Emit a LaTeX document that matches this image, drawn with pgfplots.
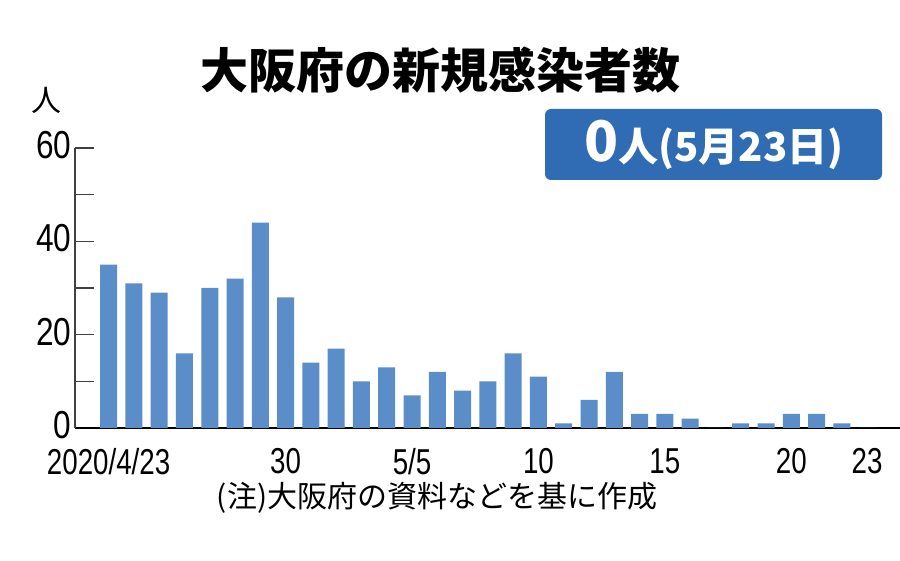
\documentclass[border=0pt]{standalone}
\usepackage{fontspec}
\usepackage{pgfplots}
\pgfplotsset{compat=1.18}
\setmainfont{Liberation Sans}
\newfontfamily\jp{Noto Sans CJK JP}
\newfontfamily\xnum[FakeStretch=0.77]{Liberation Sans}
\newfontfamily\ynum[FakeStretch=0.81]{Liberation Sans}
\definecolor{barblue}{HTML}{5B8DC8}
\definecolor{boxblue}{HTML}{2F6CB3}

\begin{document}
\begin{tikzpicture}[x=1pt,y=1pt]
\useasboundingbox (0,0) rectangle (900,561);
\begin{axis}[
    at={(75pt,133pt)}, anchor=south west,
    scale only axis,
    width=825pt, height=280pt,
    xmin=-1.33, xmax=31.3,
    ymin=0, ymax=60,
    axis lines*=left,
    x axis line style={black, line width=1.2pt},
    y axis line style={black!75, line width=1.2pt},
    ytick={0,20,40,60},
    yticklabels={0,20,40,60},
    minor ytick={10,30,50},
    tick align=inside,
    major tick length=19pt,
    minor tick length=19pt,
    ytick style={black!75, line width=1.2pt},
    yticklabel style={font=\ynum\fontsize{39}{42}\selectfont, yshift=3pt},
    xtick={0,7,12,17,22,27,30},
    xticklabels={2020/4/23,30,5/5,10,15,20,23},
    xtick style={draw=none},
    xticklabel style={font=\xnum\fontsize{36}{40}\selectfont, yshift=2pt},
    ybar,
    bar width=17pt,
    clip=false,
]
\addplot[draw=none, fill=barblue] coordinates {
(0,35) (1,31) (2,29) (3,16) (4,30) (5,32) (6,44) (7,28)
(8,14) (9,17) (10,10) (11,13) (12,7) (13,12) (14,8) (15,10)
(16,16) (17,11) (18,1) (19,6) (20,12) (21,3) (22,3) (23,2)
(24,0) (25,1) (26,1) (27,3) (28,3) (29,1) (30,0)
};
\end{axis}
% title, unit, source note and highlight box
\node[font=\jp\bfseries\fontsize{48}{54}\selectfont] at (440,491) {大阪府の新規感染者数};
\node[font=\jp\fontsize{30}{34}\selectfont] at (46,461) {人};
\node[font=\jp\fontsize{30}{34}\selectfont] at (437,63) {(注)大阪府の資料などを基に作成};
\fill[boxblue, rounded corners=6pt] (545,381) rectangle (882,452);
\node[text=white, font=\jp\bfseries\fontsize{40}{44}\selectfont] at (714,416)
  {{\fontsize{56}{60}\selectfont 0}人(5月23日)};
\end{tikzpicture}
\end{document}
